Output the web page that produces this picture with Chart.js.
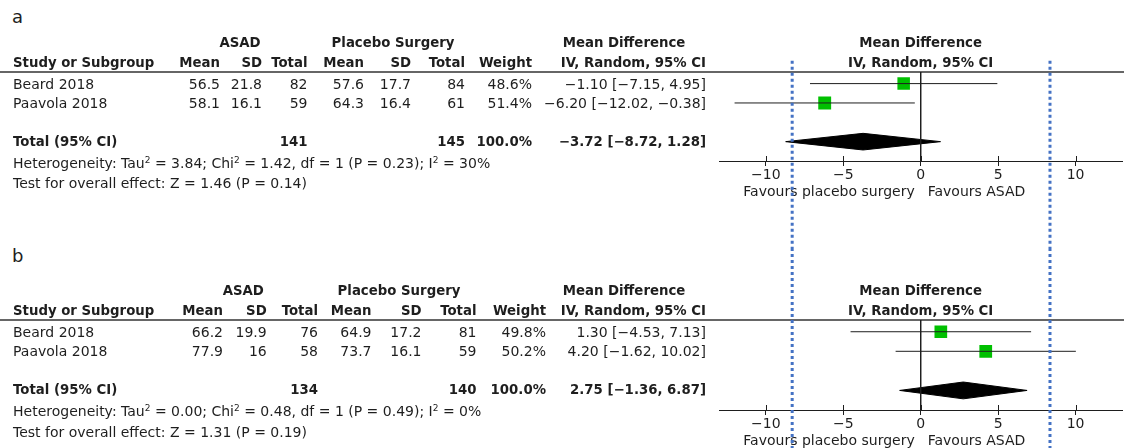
<!DOCTYPE html>
<html>
<head>
<meta charset="utf-8">
<script src="https://cdn.jsdelivr.net/npm/chart.js@4.4.1/dist/chart.umd.min.js"></script>
<style>
  body { margin: 0; background: #fff; }
  #page { position: relative; width: 1124px; height: 448px; overflow: hidden; font-family: "DejaVu Sans", sans-serif; color: #1e1e1e; }
  .panel { position: absolute; left: 0; width: 1124px; }
  .panel canvas { position: absolute; left: 0; top: 0; }
  .t { position: absolute; white-space: nowrap; font-size: 14px; line-height: 16px; }
  .b { font-weight: bold; font-size: 13.3px; }
  .lbl { position: absolute; left: 12px; font-size: 18px; line-height: 20px; }
  sup { font-size: 9px; line-height: 0; vertical-align: 5px; }
</style>
</head>
<body>
<div id="page">
  <div class="lbl" style="top:7px">a</div>
  <div class="lbl" style="top:246px">b</div>
  <div class="panel" id="pa" style="top:0;height:248px"><canvas id="ca" width="1124" height="248"></canvas></div>
  <div class="panel" id="pb" style="top:248px;height:200px"><canvas id="cb" width="1124" height="200"></canvas></div>
</div>
<script>
const studies = ['Beard 2018', 'Paavola 2018'];
const xTicks = [-10, -5, 0, 5, 10];
const thresholds = [-8.3, 8.35];

// panel a
const asadMeanA = [56.5, 58.1];
const asadSdA = [21.8, 16.1];
const asadNA = [82, 59];
const placeboMeanA = [57.6, 64.3];
const placeboSdA = [17.7, 16.4];
const placeboNA = [84, 61];
const weightA = [48.6, 51.4];
const mdA = [-1.10, -6.20];
const loA = [-7.15, -12.02];
const hiA = [4.95, -0.38];
const totalA = [-3.72, -8.72, 1.28]; // estimate, lower, upper
const totalNA = [141, 145];
const hetA = ['3.84', '1.42', 1, '0.23', 30]; // Tau2, Chi2, df, P, I2
const testA = ['1.46', '0.14']; // Z, P

// panel b
const asadMeanB = [66.2, 77.9];
const asadSdB = [19.9, 16];
const asadNB = [76, 58];
const placeboMeanB = [64.9, 73.7];
const placeboSdB = [17.2, 16.1];
const placeboNB = [81, 59];
const weightB = [49.8, 50.2];
const mdB = [1.30, 4.20];
const loB = [-4.53, -1.62];
const hiB = [7.13, 10.02];
const totalB = [2.75, -1.36, 6.87];
const totalNB = [134, 140];
const hetB = ['0.00', '0.48', 1, '0.49', 0];
const testB = ['1.31', '0.19'];

const INK = '#1e1e1e';
const GREEN = '#00c000';
const DIAMOND_HALF = 0.43;
const minus = v => v < 0 ? '\u2212' + Math.abs(v) : String(v);
const fmt2 = v => (v < 0 ? '\u2212' : '') + Math.abs(v).toFixed(2);
const ci = (m, l, h) => fmt2(m) + ' [' + fmt2(l) + ', ' + fmt2(h) + ']';

const decor = {
  id: 'decor',
  beforeDatasetsDraw(chart) {
    const { ctx, chartArea } = chart;
    ctx.save();
    ctx.strokeStyle = '#333';
    ctx.lineWidth = 1.3;
    ctx.beginPath();
    ctx.moveTo(0, chartArea.top);
    ctx.lineTo(chart.width, chartArea.top);
    ctx.stroke();
    ctx.restore();
  },
  afterDraw(chart, args, opts) {
    const { ctx, chartArea } = chart;
    const x = chart.scales.x;
    ctx.save();
    // tick marks crossing the axis
    ctx.strokeStyle = INK;
    ctx.lineWidth = 1;
    ctx.beginPath();
    x.ticks.forEach(t => {
      const px = Math.round(x.getPixelForValue(t.value)) + 0.5;
      ctx.moveTo(px, chartArea.bottom - 5);
      ctx.lineTo(px, chartArea.bottom);
    });
    ctx.stroke();
    // favours labels
    ctx.font = '14px "DejaVu Sans"';
    ctx.fillStyle = INK;
    ctx.textBaseline = 'middle';
    const x0 = x.getPixelForValue(0);
    ctx.textAlign = 'right';
    ctx.fillText('Favours placebo surgery', x0 - 6, chartArea.bottom + 31);
    ctx.textAlign = 'left';
    ctx.fillText('Favours ASAD', x0 + 7, chartArea.bottom + 31);
    // dotted threshold lines
    ctx.strokeStyle = '#4472c4';
    ctx.lineWidth = 3;
    ctx.setLineDash([3, 3]);
    thresholds.forEach(v => {
      const px = x.getPixelForValue(v);
      ctx.beginPath();
      ctx.moveTo(px, opts.dotTop);
      ctx.lineTo(px, chart.height);
      ctx.stroke();
    });
    ctx.restore();
  }
};

function txt(panel, s, x, y, align, bold) {
  const d = document.createElement('div');
  d.className = 't' + (bold ? ' b' : '');
  d.innerHTML = s;
  if (align === 'right') d.style.right = (1124 - x) + 'px';
  else d.style.left = x + 'px';
  if (align === 'center') d.style.transform = 'translateX(-50%)';
  d.style.top = (y - 8) + 'px';
  panel.appendChild(d);
}

function forest(canvasId, panelId, axisY, dotTop, cols, grp, p) {
  const canvas = document.getElementById(canvasId);
  const H = canvas.height;
  const totalRow = 4;
  const line = (pts, extra) => Object.assign({
    type: 'line', data: pts, borderColor: INK, borderWidth: 1,
    pointRadius: 0, fill: false, tension: 0
  }, extra || {});

  const datasets = [
    line([{ x: 0, y: 0.4 }, { x: 0, y: 5 }]),
    ...p.md.map((m, i) => line([{ x: p.lo[i], y: i + 1 }, { x: p.hi[i], y: i + 1 }])),
    {
      type: 'scatter',
      data: p.md.map((m, i) => ({ x: m, y: i + 1 })),
      pointStyle: 'rect',
      pointRadius: p.w.map(w => Math.sqrt(w) * 1.27),
      backgroundColor: GREEN,
      borderColor: GREEN,
      borderWidth: 0
    },
    line([
      { x: p.tot[1], y: totalRow },
      { x: p.tot[0], y: totalRow - DIAMOND_HALF },
      { x: p.tot[2], y: totalRow },
      { x: p.tot[0], y: totalRow + DIAMOND_HALF },
      { x: p.tot[1], y: totalRow }
    ], { fill: 'shape', backgroundColor: '#000', borderColor: '#000' })
  ];

  const chart = new Chart(canvas, {
    type: 'scatter',
    data: { datasets },
    options: {
      responsive: false,
      animation: false,
      events: [],
      layout: { autoPadding: false, padding: { left: 719.4, right: 2, top: 72, bottom: 0 } },
      plugins: { legend: { display: false }, tooltip: { enabled: false }, decor: { dotTop } },
      scales: {
        x: {
          type: 'linear', min: -13, max: 13,
          afterBuildTicks: s => { s.ticks = xTicks.map(v => ({ value: v })); },
          afterFit: s => { s.height = H - axisY; },
          grid: { drawOnChartArea: false, drawTicks: true, tickLength: 5, color: INK },
          border: { color: INK, width: 1 },
          ticks: {
            font: { family: 'DejaVu Sans', size: 14 }, color: INK, padding: 1,
            maxRotation: 0, autoSkip: false, callback: v => minus(v)
          }
        },
        y: { type: 'linear', reverse: true, min: 0.4, max: 5, display: false }
      }
    },
    plugins: [decor]
  });

  // table text, rows placed on the chart's own y scale
  const panel = document.getElementById(panelId);
  const y = chart.scales.y;
  const x0 = chart.scales.x.getPixelForValue(0);
  const top = chart.chartArea.top;
  const hy1 = top - 29.5, hy2 = top - 9.3;
  txt(panel, 'ASAD', grp[0], hy1, 'center', true);
  txt(panel, 'Placebo Surgery', grp[1], hy1, 'center', true);
  txt(panel, 'Mean Difference', 624, hy1, 'center', true);
  txt(panel, 'Mean Difference', x0, hy1, 'center', true);
  txt(panel, 'Study or Subgroup', 13, hy2, 'left', true);
  ['Mean', 'SD', 'Total', 'Mean', 'SD', 'Total', 'Weight'].forEach((h, j) => txt(panel, h, cols[j], hy2, 'right', true));
  txt(panel, 'IV, Random, 95% CI', 706, hy2, 'right', true);
  txt(panel, 'IV, Random, 95% CI', x0, hy2, 'center', true);

  studies.forEach((s, i) => {
    const ry = y.getPixelForValue(i + 1);
    txt(panel, s, 13, ry, 'left');
    [p.am[i].toFixed(1), String(p.asd[i]), p.an[i], p.pm[i].toFixed(1), String(p.psd[i]), p.pn[i], p.w[i].toFixed(1) + '%']
      .forEach((v, j) => txt(panel, v, cols[j], ry, 'right'));
    txt(panel, ci(p.md[i], p.lo[i], p.hi[i]), 706, ry, 'right');
  });

  const ty = y.getPixelForValue(totalRow);
  txt(panel, 'Total (95% CI)', 13, ty, 'left', true);
  txt(panel, p.tn[0], cols[2], ty, 'right', true);
  txt(panel, p.tn[1], cols[5], ty, 'right', true);
  txt(panel, '100.0%', cols[6], ty, 'right', true);
  txt(panel, ci(p.tot[0], p.tot[1], p.tot[2]), 706, ty, 'right', true);
  txt(panel, 'Heterogeneity: Tau<sup>2</sup> = ' + p.het[0] + '; Chi<sup>2</sup> = ' + p.het[1] +
    ', df = ' + p.het[2] + ' (P = ' + p.het[3] + '); I<sup>2</sup> = ' + p.het[4] + '%', 13, ty + 21, 'left');
  txt(panel, 'Test for overall effect: Z = ' + p.test[0] + ' (P = ' + p.test[1] + ')', 13, ty + 41.5, 'left');
}

forest('ca', 'pa', 161, 60.7, [220, 262, 307.5, 364, 411, 465, 532], [240, 393], {
  am: asadMeanA, asd: asadSdA, an: asadNA, pm: placeboMeanA, psd: placeboSdA, pn: placeboNA,
  w: weightA, md: mdA, lo: loA, hi: hiA, tot: totalA, tn: totalNA, het: hetA, test: testA
});
forest('cb', 'pb', 162, 0, [223, 266.7, 318, 371.5, 421.5, 476.5, 546], [243.3, 399], {
  am: asadMeanB, asd: asadSdB, an: asadNB, pm: placeboMeanB, psd: placeboSdB, pn: placeboNB,
  w: weightB, md: mdB, lo: loB, hi: hiB, tot: totalB, tn: totalNB, het: hetB, test: testB
});
</script>
</body>
</html>
